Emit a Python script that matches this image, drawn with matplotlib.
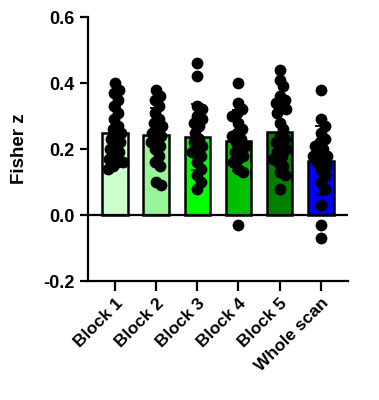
import numpy as np
import matplotlib
matplotlib.use("Agg")
import matplotlib.pyplot as plt

plt.rcParams['font.family'] = ['Liberation Sans', 'DejaVu Sans']
plt.rcParams['font.weight'] = 'bold'

categories = ['Block 1', 'Block 2', 'Block 3', 'Block 4', 'Block 5', 'Whole scan']
colors = ['#ccffcc', '#99f599', '#00ff00', '#00c000', '#008000', '#0000ff']

block1 = [0.40, 0.38, 0.37, 0.35, 0.33, 0.31, 0.29, 0.27, 0.26, 0.25, 0.24,
          0.23, 0.22, 0.21, 0.20, 0.19, 0.18, 0.17, 0.16, 0.16, 0.15, 0.14]
block2 = [0.38, 0.36, 0.35, 0.33, 0.31, 0.29, 0.28, 0.27, 0.26, 0.25, 0.24,
          0.23, 0.22, 0.21, 0.20, 0.18, 0.16, 0.15, 0.10, 0.09]
block3 = [0.46, 0.42, 0.33, 0.32, 0.30, 0.29, 0.28, 0.27, 0.25, 0.23, 0.22,
          0.21, 0.20, 0.19, 0.18, 0.16, 0.14, 0.12, 0.10, 0.08]
block4 = [0.40, 0.34, 0.32, 0.31, 0.30, 0.28, 0.26, 0.25, 0.24, 0.23, 0.22,
          0.21, 0.20, 0.19, 0.18, 0.17, 0.16, 0.14, 0.13, -0.03]
block5 = [0.44, 0.41, 0.39, 0.36, 0.35, 0.34, 0.33, 0.32, 0.31, 0.28, 0.26,
          0.24, 0.23, 0.22, 0.21, 0.20, 0.19, 0.18, 0.17, 0.16, 0.15, 0.13,
          0.12, 0.08]
whole = [0.38, 0.29, 0.27, 0.25, 0.23, 0.22, 0.21, 0.20, 0.19, 0.18, 0.18,
         0.17, 0.16, 0.15, 0.14, 0.12, 0.10, 0.08, 0.03, -0.03, -0.07]
groups = [block1, block2, block3, block4, block5, whole]


def swarm(vals, dot_y, dot_x):
    # simple beeswarm: place each point at smallest offset that does not overlap
    placed = []
    offs = []
    for v in vals:
        cands = [0.0]
        for py, px in placed:
            dy = (v - py) / dot_y
            if abs(dy) < 1:
                dx = np.sqrt(1 - dy ** 2) * dot_x
                cands += [px + dx, px - dx]
        cands.sort(key=abs)
        for c in cands:
            ok = True
            for py, px in placed:
                if ((v - py) / dot_y) ** 2 + ((c - px) / dot_x) ** 2 < 0.99:
                    ok = False
                    break
            if ok:
                break
        placed.append((v, c))
        offs.append(c)
    return offs


fig = plt.figure(figsize=(3.79, 4.0), dpi=100)
ax = fig.add_axes([0.232, 0.2975, 0.686, 0.66])

x = np.arange(len(categories))
means = [np.mean(g) for g in groups]
sds = [np.std(g, ddof=1) for g in groups]

ax.bar(x, means, width=0.62, color=colors, edgecolor='black', linewidth=1.8, zorder=2)
ax.errorbar(x, means, yerr=sds, fmt='none', ecolor='black', elinewidth=1.3,
            capsize=4, capthick=1.3, zorder=3)
for i, g in enumerate(groups):
    offs = swarm(g, 0.028, 0.13)
    ax.scatter(i + np.array(offs), g, s=72, color='black', zorder=4, linewidths=0)

ax.axhline(0, color='black', linewidth=1.6, zorder=3)
ax.set_xlim(-0.66, 5.66)
ax.set_ylim(-0.2, 0.6)
ax.set_yticks([-0.2, 0.0, 0.2, 0.4, 0.6])
ax.set_yticklabels(['-0.2', '0.0', '0.2', '0.4', '0.6'], fontsize=13, fontweight='bold')
ax.set_xticks(x)
ax.set_xticklabels(categories, rotation=45, ha='right', rotation_mode='anchor',
                   fontsize=12.5, fontweight='bold')
ax.set_ylabel('Fisher z', fontsize=13.5, fontweight='bold', labelpad=11)
for s in ['top', 'right']:
    ax.spines[s].set_visible(False)
for s in ['left', 'bottom']:
    ax.spines[s].set_linewidth(1.6)
ax.tick_params(axis='y', width=1.6, length=6)
ax.tick_params(axis='x', width=1.6, length=7)

fig.savefig('out.png', dpi=100)
plt.close(fig)
